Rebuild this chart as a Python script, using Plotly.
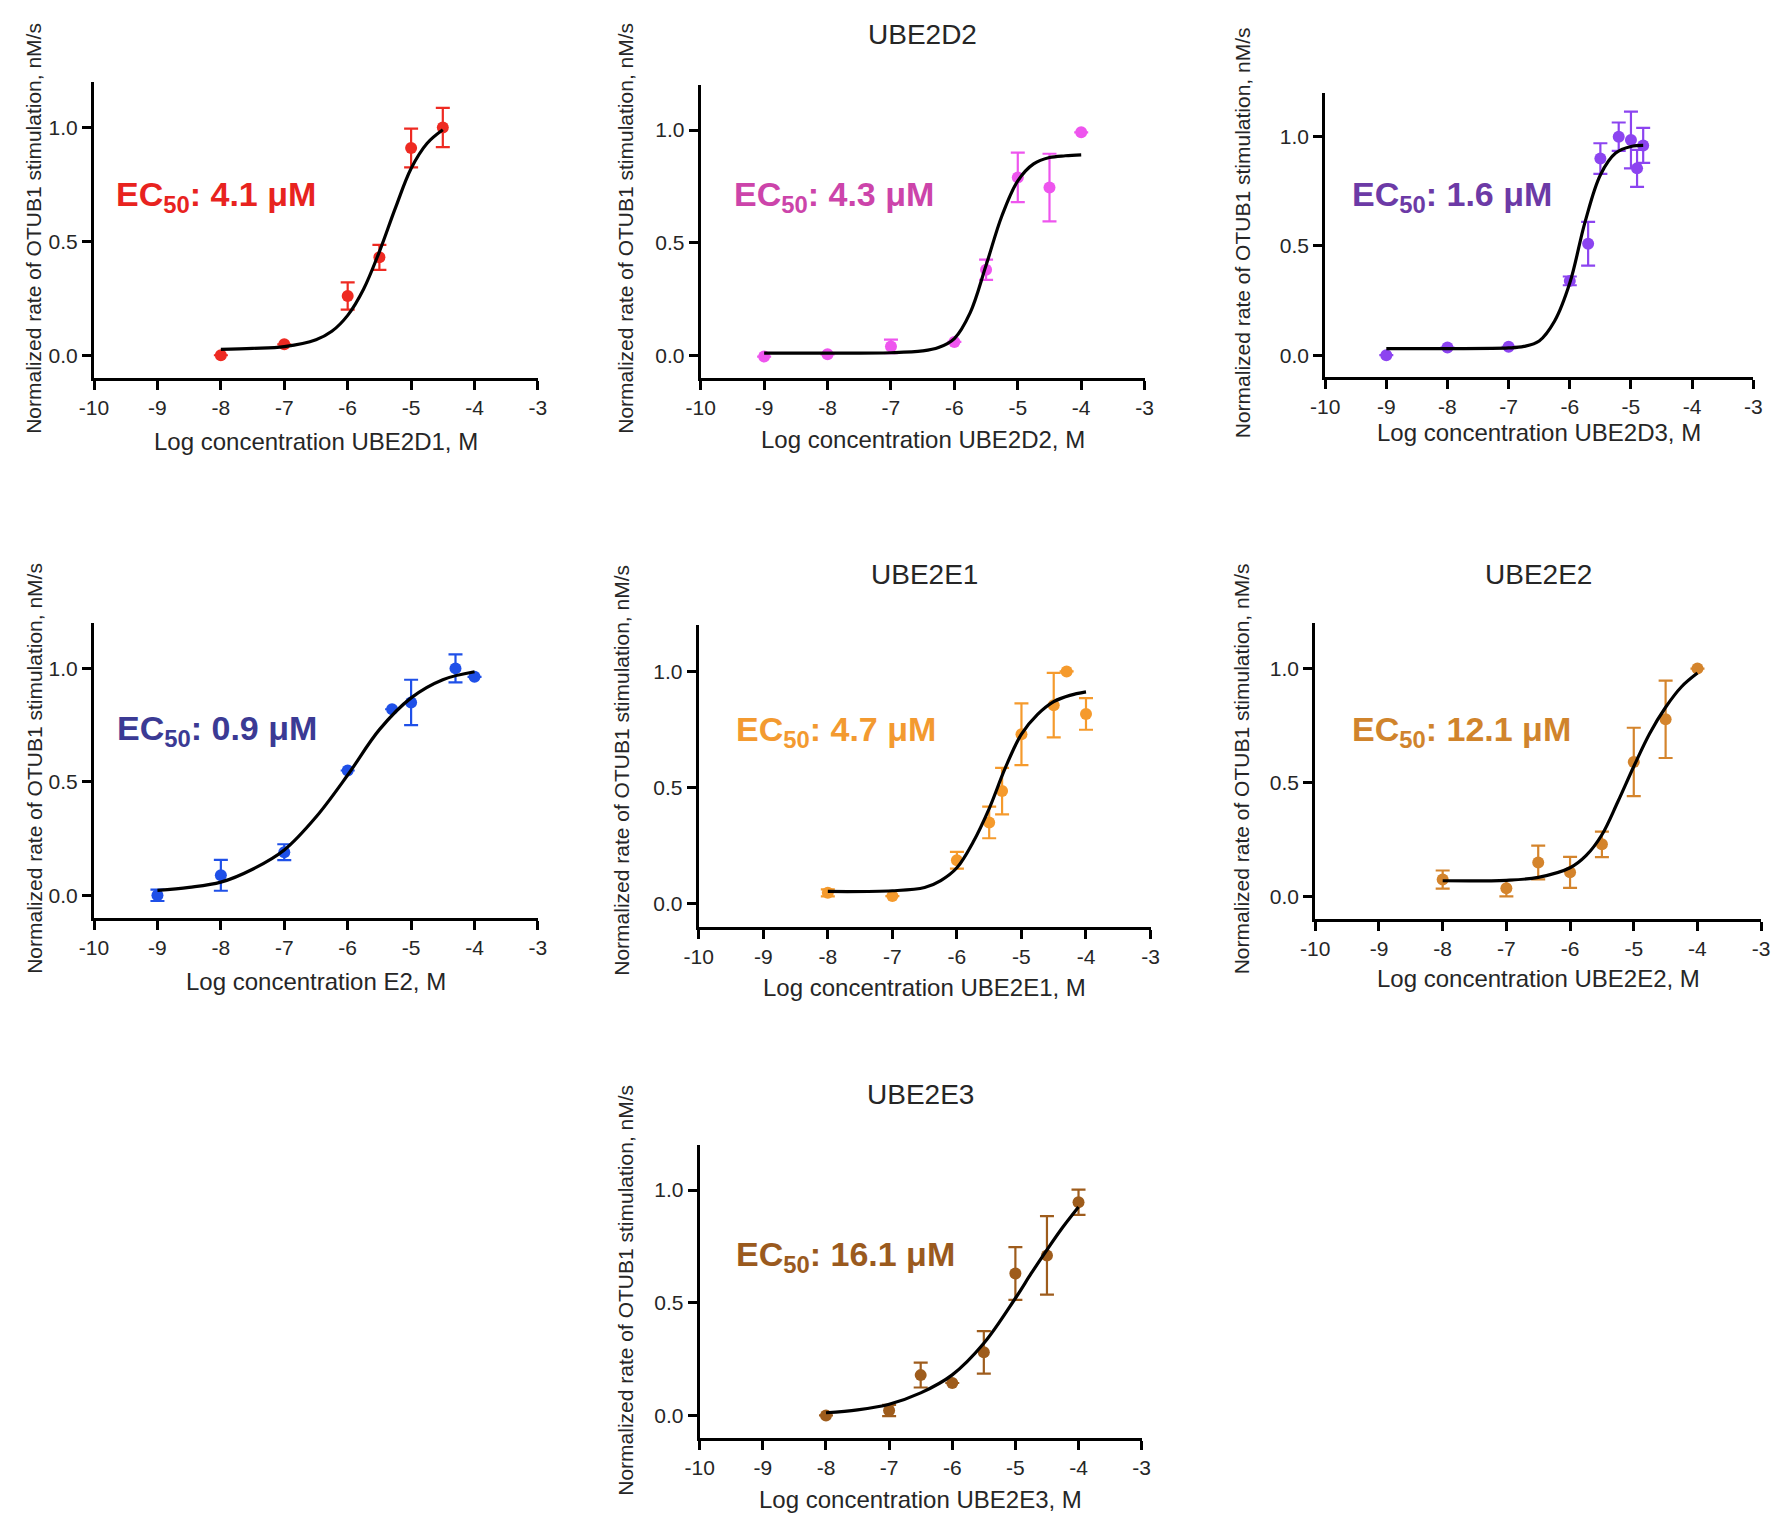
import plotly.graph_objects as go

# ---------------- data ----------------
panel_titles = ["", "UBE2D2", "", "", "UBE2E1", "UBE2E2", "UBE2E3"]
x_axis_titles = ["Log concentration UBE2D1, M", "Log concentration UBE2D2, M",
                 "Log concentration UBE2D3, M", "Log concentration E2, M",
                 "Log concentration UBE2E1, M", "Log concentration UBE2E2, M",
                 "Log concentration UBE2E3, M"]
y_axis_title = "Normalized rate of OTUB1 stimulation, nM/s"
ec50_values = ["4.1", "4.3", "1.6", "0.9", "4.7", "12.1", "16.1"]

x_tick_vals = [-10, -9, -8, -7, -6, -5, -4, -3]
x_tick_labels = ["-10", "-9", "-8", "-7", "-6", "-5", "-4", "-3"]
y_tick_vals = [0.0, 0.5, 1.0]
y_tick_labels = ["0.0", "0.5", "1.0"]

# UBE2D1
d1_x = [-8, -7, -6, -5.5, -5, -4.5]
d1_y = [0.0, 0.048, 0.26, 0.43, 0.91, 1.0]
d1_err = [0, 0, 0.06, 0.055, 0.085, 0.086]
d1_fit_x = [-8, -7.5, -7, -6.5, -6.25, -6, -5.75, -5.5, -5.25, -5, -4.75, -4.5]
d1_fit_y = [0.026, 0.03, 0.038, 0.068, 0.105, 0.175, 0.29, 0.455, 0.645, 0.82, 0.93, 0.99]

# UBE2D2
d2_x = [-9, -8, -7, -6, -5.5, -5, -4.5, -4]
d2_y = [-0.005, 0.005, 0.04, 0.06, 0.38, 0.79, 0.745, 0.99]
d2_err = [0, 0, 0.03, 0, 0.045, 0.11, 0.15, 0]
d2_fit_x = [-9, -8, -7, -6.5, -6.25, -6, -5.75, -5.5, -5.25, -5, -4.75, -4.5, -4.25, -4]
d2_fit_y = [0.01, 0.01, 0.012, 0.02, 0.035, 0.075, 0.19, 0.40, 0.62, 0.775, 0.85, 0.878, 0.886, 0.89]

# UBE2D3
d3_x = [-9, -8, -7, -6, -5.7, -5.5, -5.2, -5.0, -4.9, -4.8]
d3_y = [0.0, 0.035, 0.038, 0.34, 0.51, 0.90, 1.0, 0.985, 0.855, 0.96]
d3_err = [0, 0, 0, 0.02, 0.10, 0.07, 0.065, 0.13, 0.085, 0.08]
d3_fit_x = [-9, -8, -7, -6.75, -6.5, -6.25, -6, -5.75, -5.5, -5.25, -5, -4.8]
d3_fit_y = [0.03, 0.03, 0.033, 0.04, 0.065, 0.155, 0.33, 0.61, 0.825, 0.925, 0.955, 0.96]

# E2
d4_x = [-9, -8, -7, -6, -5.3, -5, -4.3, -4]
d4_y = [0.0, 0.088, 0.19, 0.55, 0.82, 0.85, 1.0, 0.963]
d4_err = [0.025, 0.068, 0.035, 0, 0, 0.10, 0.062, 0]
d4_fit_x = [-9, -8.5, -8, -7.5, -7, -6.5, -6, -5.5, -5, -4.5, -4]
d4_fit_y = [0.022, 0.035, 0.058, 0.115, 0.20, 0.345, 0.53, 0.73, 0.87, 0.95, 0.985]

# UBE2E1
d5_x = [-8, -7, -6, -5.5, -5.3, -5, -4.5, -4.3, -4]
d5_y = [0.047, 0.033, 0.187, 0.35, 0.485, 0.73, 0.855, 1.0, 0.817]
d5_err = [0.015, 0, 0.036, 0.068, 0.10, 0.133, 0.139, 0, 0.068]
d5_fit_x = [-8, -7, -6.5, -6.25, -6, -5.75, -5.5, -5.25, -5, -4.75, -4.5, -4.25, -4]
d5_fit_y = [0.053, 0.056, 0.07, 0.10, 0.155, 0.265, 0.41, 0.585, 0.73, 0.815, 0.87, 0.897, 0.912]

# UBE2E2
d6_x = [-8, -7, -6.5, -6, -5.5, -5, -4.5, -4]
d6_y = [0.073, 0.035, 0.148, 0.105, 0.228, 0.59, 0.777, 1.0]
d6_err = [0.04, 0.036, 0.074, 0.068, 0.056, 0.15, 0.17, 0]
d6_fit_x = [-8, -7, -6.5, -6, -5.75, -5.5, -5.25, -5, -4.75, -4.5, -4.25, -4]
d6_fit_y = [0.068, 0.07, 0.083, 0.125, 0.178, 0.27, 0.415, 0.57, 0.715, 0.83, 0.92, 0.98]

# UBE2E3
d7_x = [-8, -7, -6.5, -6, -5.5, -5, -4.5, -4]
d7_y = [0.0, 0.022, 0.179, 0.144, 0.28, 0.63, 0.71, 0.946]
d7_err = [0, 0.025, 0.055, 0, 0.094, 0.117, 0.174, 0.056]
d7_fit_x = [-8, -7.5, -7, -6.5, -6, -5.5, -5, -4.75, -4.5, -4.25, -4]
d7_fit_y = [0.012, 0.025, 0.05, 0.10, 0.18, 0.32, 0.52, 0.63, 0.735, 0.835, 0.925]

# ---------------- styling / layout ----------------
PAGE_W, PAGE_H = 1790, 1530
BODY_MARGIN = 8  # default page margin around the plot div
W, H = PAGE_W - 2 * BODY_MARGIN, PAGE_H - 2 * BODY_MARGIN
FONT = "Liberation Sans, Arial, Helvetica, sans-serif"
TEXT_COLOR = "#262626"

marker_colors = ["#ee2a22", "#ee55ee", "#8c44f0", "#1f50e8", "#f59a2c", "#d4842c", "#9e5c1c"]
label_colors = ["#e8231f", "#cc44aa", "#6c3aa6", "#3b3a94", "#f39a30", "#d0842c", "#9a5a1e"]

# plot-area boxes in page pixels: left, right, top, bottom
boxes = [
    (80, 530, 82, 378),
    (695, 1145, 85, 378),
    (1328, 1762, 93, 377),
    (80, 530, 623, 918),
    (693, 1151, 625, 927),
    (1318, 1770, 623, 919),
    (694, 1142, 1145, 1438),
]
ec50_pos = [(100, 196), (727, 196), (1353, 197), (101, 730), (729, 731), (1353, 731), (729, 1256)]
xtitle_y = [441, 439, 432, 981, 987, 979, 1499]
ytitle_pos = [(19, 228), (619, 228), (1244, 233), (19, 768), (615, 770), (1243, 769), (618, 1290)]
title_y = [34, 34, 34, 574, 574, 574, 1094]

panels = [
    (d1_x, d1_y, d1_err, d1_fit_x, d1_fit_y),
    (d2_x, d2_y, d2_err, d2_fit_x, d2_fit_y),
    (d3_x, d3_y, d3_err, d3_fit_x, d3_fit_y),
    (d4_x, d4_y, d4_err, d4_fit_x, d4_fit_y),
    (d5_x, d5_y, d5_err, d5_fit_x, d5_fit_y),
    (d6_x, d6_y, d6_err, d6_fit_x, d6_fit_y),
    (d7_x, d7_y, d7_err, d7_fit_x, d7_fit_y),
]

def px(x):
    return (x - BODY_MARGIN) / W

def py(y):
    return 1 - (y - BODY_MARGIN) / H

fig = go.Figure()
layout = dict(
    width=W, height=H, autosize=False,
    margin=dict(l=0, r=0, t=0, b=0, pad=0),
    paper_bgcolor="white", plot_bgcolor="white",
    showlegend=False,
    font=dict(family=FONT, color=TEXT_COLOR),
)
annotations = []

for i, (xs, ys, errs, fx, fy) in enumerate(panels):
    n = i + 1
    xa = "x" if n == 1 else f"x{n}"
    ya = "y" if n == 1 else f"y{n}"
    left, right, top, bottom = boxes[i]

    fig.add_trace(go.Scatter(
        x=xs, y=ys, xaxis=xa, yaxis=ya, mode="markers",
        marker=dict(color=marker_colors[i], size=12),
        error_y=dict(type="data", array=errs, visible=True,
                     color=marker_colors[i], thickness=2.2, width=7),
        cliponaxis=False,
    ))
    fig.add_trace(go.Scatter(
        x=fx, y=fy, xaxis=xa, yaxis=ya, mode="lines",
        line=dict(color="black", width=3.2, shape="spline", smoothing=1.0),
    ))

    axis_common = dict(
        showgrid=False, zeroline=False, showline=True, linecolor="black", linewidth=3,
        ticks="outside", ticklen=9, tickwidth=2.5, tickcolor="black",
        tickfont=dict(family=FONT, size=21, color=TEXT_COLOR),
    )
    layout["xaxis" if n == 1 else f"xaxis{n}"] = dict(
        axis_common, domain=[px(left), px(right)], range=[-10, -3],
        tickmode="array", tickvals=x_tick_vals, ticktext=x_tick_labels,
        anchor=ya,
    )
    layout["yaxis" if n == 1 else f"yaxis{n}"] = dict(
        axis_common, domain=[py(bottom), py(top)], range=[-0.1, 1.2],
        tickmode="array", tickvals=y_tick_vals, ticktext=y_tick_labels,
        anchor=xa,
    )

    cx = (left + right) / 2
    if panel_titles[i]:
        annotations.append(dict(
            text=panel_titles[i], x=px(cx), y=py(title_y[i]), xref="paper", yref="paper",
            xanchor="center", yanchor="middle", showarrow=False,
            font=dict(family=FONT, size=28, color=TEXT_COLOR),
        ))
    annotations.append(dict(
        text=x_axis_titles[i], x=px(cx), y=py(xtitle_y[i]), xref="paper", yref="paper",
        xanchor="center", yanchor="middle", showarrow=False,
        font=dict(family=FONT, size=24, color=TEXT_COLOR),
    ))
    annotations.append(dict(
        text=y_axis_title, x=px(ytitle_pos[i][0]), y=py(ytitle_pos[i][1]),
        xref="paper", yref="paper", xanchor="center", yanchor="middle",
        textangle=-90, showarrow=False,
        font=dict(family=FONT, size=21, color=TEXT_COLOR),
    ))
    annotations.append(dict(
        text=f"<b>EC<sub>50</sub>: {ec50_values[i]} μM</b>",
        x=px(ec50_pos[i][0]), y=py(ec50_pos[i][1]), xref="paper", yref="paper",
        xanchor="left", yanchor="middle", showarrow=False,
        font=dict(family=FONT, size=34, color=label_colors[i]),
    ))

layout["annotations"] = annotations
fig.update_layout(**layout)
fig.write_html("out.html")
